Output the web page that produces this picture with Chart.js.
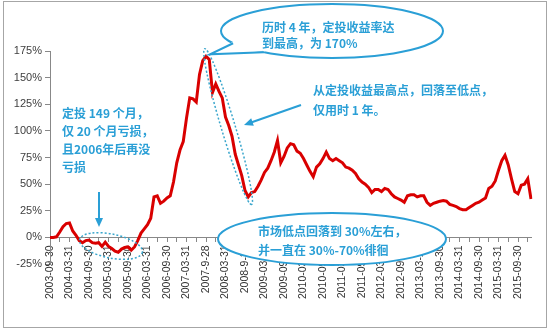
<!DOCTYPE html>
<html>
<head>
<meta charset="utf-8">
<script src="https://cdn.jsdelivr.net/npm/chart.js@4"></script>
<style>
  html, body { margin: 0; padding: 0; background: #fff; }
</style>
</head>
<body>
<canvas id="chart" width="550" height="333"></canvas>
<script>
// tick labels, one every 6 months
const tickLabels = [
  "2003-09-30", "2004-03-31", "2004-09-30", "2005-03-31", "2005-09-30",
  "2006-03-31", "2006-09-30", "2007-03-31", "2007-9-28", "2008-03-31",
  "2008-9-30", "2009-03-31", "2009-09-30", "2010-03-31", "2010-09-30",
  "2011-03-31", "2011-09-30", "2012-03-31", "2012-09-28", "2013-03-29",
  "2013-09-30", "2014-03-31", "2014-09-30", "2015-03-31", "2015-09-30"
];

// monthly return of the fixed investment plan, in %
const returns = [
  0, 0, 0.5, 5, 10, 13, 13.5, 6, 2, -3,
  -5, -3, -2.5, -5, -5.5, -5, -8.5, -4.5, -8.5, -10.5,
  -13, -14, -11, -9.5, -9, -12, -9, -3, 4, 8,
  12, 18, 38, 39, 32, 34, 37, 39, 52, 70,
  82, 90, 112, 131, 130, 127, 153, 166, 170, 167,
  136, 144, 137, 131, 113, 105, 95, 78, 68, 58,
  44, 38, 42, 43, 48, 54, 61, 65, 72, 80,
  91, 70, 76, 84, 88, 87, 81, 79, 74, 68,
  62, 57, 66, 69, 74, 80, 74, 72, 74, 72,
  70, 66, 65, 63, 60, 55, 52, 50, 47, 42,
  45, 45, 43, 46, 45, 41, 38, 36.5, 35, 33,
  39, 40, 40, 38, 39, 39, 33, 30, 32, 33,
  34, 34.5, 34, 31, 30, 29, 27, 26, 26, 28,
  30, 32, 33, 35, 37, 46, 48, 53, 63, 72,
  77, 68, 55, 43, 41, 49, 50, 55, 36
];

const categories = returns.map((v, i) => (i % 6 === 0 ? tickLabels[i / 6] : ""));

const BLUE = "#2a9fd6";

// notes drawn on top of the chart
const notes = {
  id: "notes",
  afterDraw(chart) {
    const ctx = chart.ctx;
    const xs = chart.scales.x, ys = chart.scales.y;
    const X = i => xs.getPixelForValue(i);
    const Y = v => ys.getPixelForValue(v);

    function ellipse(cx, cy, rx, ry, rot, fill, stroke, lw, dash) {
      ctx.save();
      ctx.beginPath();
      ctx.ellipse(cx, cy, rx, ry, rot, 0, Math.PI * 2);
      if (fill) { ctx.fillStyle = fill; ctx.fill(); }
      ctx.setLineDash(dash || []);
      ctx.lineWidth = lw;
      ctx.strokeStyle = stroke;
      ctx.stroke();
      ctx.restore();
    }
    function arrow(x1, y1, x2, y2) {
      const a = Math.atan2(y2 - y1, x2 - x1);
      ctx.save();
      ctx.strokeStyle = BLUE; ctx.fillStyle = BLUE; ctx.lineWidth = 2;
      ctx.beginPath();
      ctx.moveTo(x1, y1);
      ctx.lineTo(x2 - 6 * Math.cos(a), y2 - 6 * Math.sin(a));
      ctx.stroke();
      ctx.beginPath();
      ctx.moveTo(x2, y2);
      ctx.lineTo(x2 - 9 * Math.cos(a) + 4 * Math.sin(a), y2 - 9 * Math.sin(a) - 4 * Math.cos(a));
      ctx.lineTo(x2 - 9 * Math.cos(a) - 4 * Math.sin(a), y2 - 9 * Math.sin(a) + 4 * Math.cos(a));
      ctx.closePath();
      ctx.fill();
      ctx.restore();
    }
    function lines(arr, x, y, gap) {
      ctx.save();
      ctx.fillStyle = BLUE;
      ctx.font = "bold 12px 'Noto Sans CJK SC', sans-serif";
      ctx.textBaseline = "middle";
      arr.forEach((t, k) => ctx.fillText(t, x, y + k * gap));
      ctx.restore();
    }

    // outer frame
    ctx.save();
    ctx.strokeStyle = "#a6a6a6";
    ctx.lineWidth = 1;
    ctx.strokeRect(3.5, 1.5, 543, 326);
    ctx.restore();

    // dotted ring round the fall from the top
    const px = X(48), py = Y(170), qx = X(61), qy = Y(38);
    const len = Math.hypot(qx - px, qy - py);
    ellipse((px + qx) / 2 + 1, (py + qy) / 2, len / 2 + 8, 7, Math.atan2(qy - py, qx - px),
      null, "#3aa6cc", 1.5, [2, 2]);

    // dotted ring round the loss months
    ellipse(111, 246, 32, 12, 0.2, null, "#3aa6cc", 1.5, [2, 2]);

    // callout bubble
    const cx = 332, cy = 31, rx = 111, ry = 27;
    ellipse(cx, cy, rx, ry, 0, "#fff", BLUE, 2);
    const t1 = 153 * Math.PI / 180, t2 = 128 * Math.PI / 180;
    const b1 = [cx + rx * Math.cos(t1), cy + ry * Math.sin(t1)];
    const b2 = [cx + rx * Math.cos(t2), cy + ry * Math.sin(t2)];
    const tip = [X(48) + 4, Y(170) - 2];
    ctx.save();
    ctx.beginPath();
    ctx.moveTo(b1[0] + 1, b1[1] - 2);
    ctx.lineTo(tip[0], tip[1]);
    ctx.lineTo(b2[0] + 2, b2[1] - 1);
    ctx.closePath();
    ctx.fillStyle = "#fff";
    ctx.fill();
    ctx.beginPath();
    ctx.moveTo(b1[0], b1[1]);
    ctx.lineTo(tip[0], tip[1]);
    ctx.lineTo(b2[0], b2[1]);
    ctx.strokeStyle = BLUE;
    ctx.lineWidth = 2;
    ctx.stroke();
    ctx.restore();
    lines(["历时 4 年，定投收益率达", "到最高，为 170%"], 262, 27, 16);

    // right note
    lines(["从定投收益最高点，回落至低点，", "仅用时 1 年。"], 313, 90, 20);
    arrow(301, 105, 244, 125);

    // left note
    lines(["定投 149 个月，", "仅 20 个月亏损，", "且2006年后再没", "亏损"], 62, 113, 18.3);
    arrow(99, 192, 99, 227);

    // bottom bubble
    ellipse(332, 239, 114, 26, 0, "#fff", BLUE, 2);
    lines(["市场低点回落到 30%左右，", "并一直在 30%-70%徘徊"], 258, 231, 19);
  }
};

new Chart(document.getElementById("chart"), {
  type: "line",
  data: {
    labels: categories,
    datasets: [{
      data: returns,
      borderColor: "#d90000",
      borderWidth: 3,
      pointRadius: 0,
      tension: 0,
      fill: false
    }]
  },
  options: {
    responsive: false,
    animation: false,
    layout: { padding: { top: 51, right: 19, left: 0, bottom: 69 } },
    plugins: { legend: { display: false }, tooltip: { enabled: false } },
    scales: {
      x: {
        type: "category",
        position: { y: 0 },
        offset: false,
        grid: {
          drawOnChartArea: false,
          tickLength: 4,
          color: c => (c.index % 3 === 0 ? "#888" : "rgba(0,0,0,0)")
        },
        border: { color: "#888" },
        ticks: {
          autoSkip: false,
          minRotation: 90,
          maxRotation: 90,
          padding: 4,
          color: "#333",
          font: { family: "Arial, 'Liberation Sans'", size: 10.5 }
        }
      },
      y: {
        min: -25,
        max: 175,
        grid: { drawOnChartArea: false, tickLength: 5, color: "#888" },
        border: { color: "#888" },
        ticks: {
          stepSize: 25,
          padding: 3,
          color: "#404040",
          font: { family: "Arial, 'Liberation Sans'", size: 11 },
          callback: v => v + "%"
        },
        afterFit: s => { s.width = 50; }
      }
    }
  },
  plugins: [notes]
});
</script>
</body>
</html>
